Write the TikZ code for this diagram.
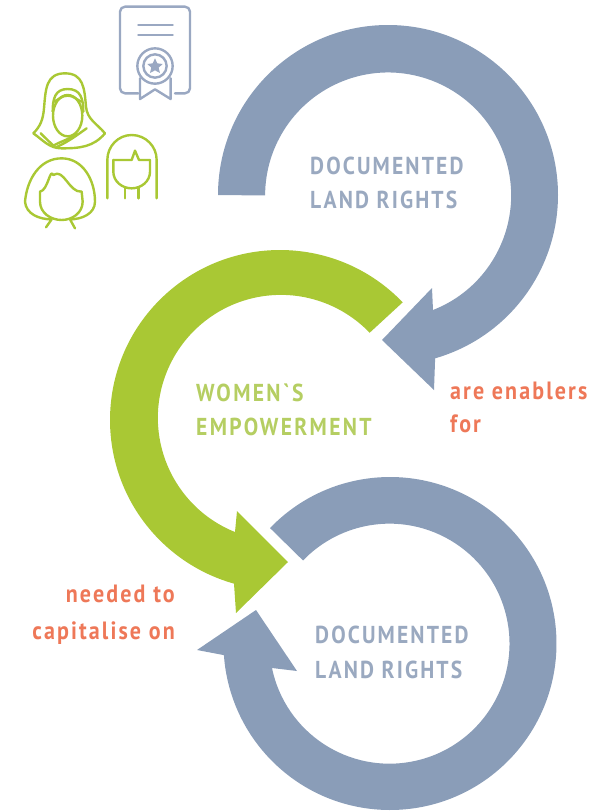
\documentclass[tikz,border=0pt]{standalone}
\usepackage{fontspec}
\newfontfamily\din{PT Sans}[FakeStretch=0.88]
\definecolor{slate}{HTML}{8A9DB8}
\definecolor{slatetxt}{HTML}{9AA9C0}
\definecolor{slateicon}{HTML}{9AA8C2}
\definecolor{leaf}{HTML}{A9C834}
\definecolor{leaftxt}{HTML}{B5CE62}
\definecolor{coral}{HTML}{EE7858}
\tikzset{
  bluetxt/.style={anchor=base west,inner sep=0pt,text=slatetxt,font=\din\bfseries\fontsize{24.5}{24.5}\selectfont\addfontfeatures{LetterSpace=8.7}},
  greentxt/.style={anchor=base west,inner sep=0pt,text=leaftxt,font=\din\bfseries\fontsize{24.5}{24.5}\selectfont\addfontfeatures{LetterSpace=9.5}},
  orangetxt/.style={inner sep=0pt,text=coral,font=\din\bfseries\fontsize{25}{25}\selectfont\addfontfeatures{LetterSpace=8.5}},
  leafline/.style={draw=leaf,line width=2.4pt,line join=round,line cap=round},
  certline/.style={draw=slateicon,line width=2.4pt,line join=round,line cap=round}
}
\begin{document}
\begin{tikzpicture}[x=1pt,y=1pt,yscale=-1]
\useasboundingbox (0,0) rectangle (602,812);
\coordinate (ctop) at (388,195);
\coordinate (cmid) at (280,420);
\coordinate (cbot) at (390,643.5);
% top arrow
\fill[slate] (ctop) ++(180:170) arc[start angle=180,end angle=433.9,radius=170]
  -- (434,390) -- (382,340) -- (432,288) -- (433,310)
  arc[start angle=428.6,end angle=180,radius=123] -- cycle;
% green arrow
\fill[leaf] (cmid) ++(316.2:170) arc[start angle=316.2,end angle=105.7,radius=170]
  -- (236,613) -- (288,562) -- (237,511) -- (235,532)
  arc[start angle=111.9,end angle=316.2,radius=123] -- cycle;
% bottom arrow
\fill[slate] (cbot) ++(223.9:166.5) arc[start angle=223.9,end angle=536,radius=166.5]
  -- (197,650) -- (256,610) -- (297,671) -- (272,668)
  arc[start angle=528.3,end angle=223.9,radius=120] -- cycle;
% texts
\node[bluetxt] (t1) at (310,174) {DOCUMENTED};
\node[bluetxt] (t2) at (310,208) {LAND RIGHTS};
\node[greentxt] (t3) at (196,401) {WOMEN`S};
\node[greentxt] (t4) at (196,435) {EMPOWERMENT};
\node[orangetxt,anchor=base west] (t5) at (450,399) {are enablers};
\node[orangetxt,anchor=base west] (t6) at (450,432) {for};
\node[orangetxt,anchor=base east] (t7) at (175,602) {needed to};
\node[orangetxt,anchor=base east] (t8) at (175,639) {capitalise on};
\node[bluetxt] (t9) at (315,643) {DOCUMENTED};
\node[bluetxt] (t10) at (315,678) {LAND RIGHTS};
% certificate icon
\begin{scope}[scale=1/3]
\draw[certline] (415,280) -- (375,280) to[out=180,in=90] (360,265) -- (360,35)
  to[out=-90,in=180] (375,20) -- (555,20) to[out=0,in=-90] (570,35) -- (570,265)
  to[out=90,in=0] (555,280) -- (525,280);
\draw[certline] (415,75) -- (518,75) (415,105) -- (518,105);
\draw[certline] (465,198) circle[radius=53];
\draw[certline] (465,198) circle[radius=35];
\fill[slateicon] (465,175) -- (472,190) -- (488,192) -- (476,203) -- (480,219)
  -- (465,211) -- (450,219) -- (454,203) -- (442,192) -- (458,190) -- cycle;
\draw[certline] (420,235) -- (420,297) -- (465,268) -- (512,297) -- (512,235);
\end{scope}
% hijab woman
\begin{scope}[shift={(20,65)},scale=1/3]
\draw[leafline] (40,205) to[out=-45,in=95] (72,130) to[out=-85,in=180,looseness=1.2] (135,25)
  to[out=0,in=-95,looseness=1.2] (198,125) to[out=85,in=-130] (255,205)
  to[out=130,in=0] (125,250) to[out=180,in=35] (40,205);
\draw[leafline] (98,140) to[out=-90,in=180,looseness=1.2] (143,72) to[out=0,in=-90,looseness=1.2] (190,140);
\draw[leafline] (143,152) ellipse[x radius=44,y radius=62];
\draw[leafline] (102,110) to[out=-25,in=180] (143,92) to[out=0,in=-155] (184,110);
\draw[leafline] (62,205) -- (100,242) to[out=-30,in=140] (170,205);
\draw[leafline] (108,247) to[out=-25,in=145] (200,190);
\end{scope}
% left woman and girl
\begin{scope}[shift={(20,130)},scale=1/3]
\draw[leafline] (78,292) -- (95,268) to[out=180,in=85] (15,215) to[out=-85,in=180] (125,85)
  to[out=0,in=-90] (225,215) to[out=90,in=0] (150,268) -- (165,295);
\draw[leafline] (60,185) to[out=-10,in=-115] (100,135) to[out=-35,in=175] (185,185)
  -- (188,215) to[out=90,in=0] (125,270) to[out=180,in=90] (60,215) -- cycle;
\draw[leafline] (262,205) -- (262,90) to[out=-90,in=180] (335,15) to[out=0,in=-90] (410,90) -- (410,205);
\draw[leafline] (280,90) -- (335,90) -- (345,62) -- (357,90) -- (390,90);
\draw[leafline] (280,90) -- (280,125) to[out=90,in=180] (335,175) to[out=0,in=90] (390,125) -- (390,90);
\draw[leafline] (315,175) -- (315,205) (355,175) -- (355,205);
\end{scope}
\end{tikzpicture}
\end{document}
